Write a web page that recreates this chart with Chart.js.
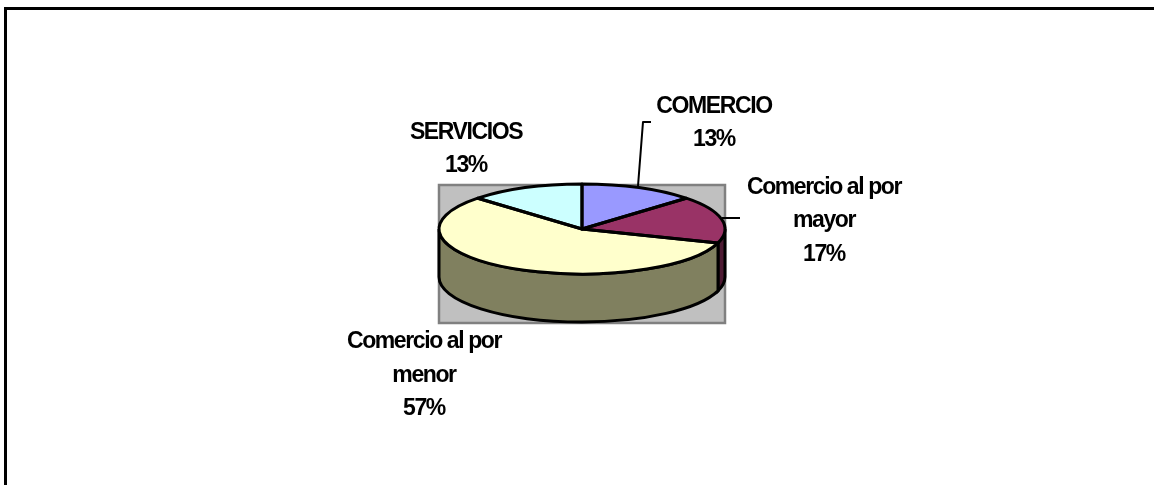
<!DOCTYPE html>
<html>
<head>
<meta charset="utf-8">
<title>Sectores</title>
<style>
html,body{margin:0;padding:0;background:#fff;overflow:hidden;}
#wrap{position:relative;width:1154px;height:485px;}
canvas{display:block;}
</style>
<script src="https://cdn.jsdelivr.net/npm/chart.js@4/dist/chart.umd.min.js"></script>
</head>
<body>
<div id="wrap"><canvas id="pie" width="1154" height="485"></canvas></div>
<script>
const categorias=['COMERCIO','Comercio al por mayor','Comercio al por menor','SERVICIOS'];
const valores=[13,17,57,13];
const colores=['#9999FF','#993366','#FFFFCC','#CCFFFF'];
const coloresLado=['#4d4d80','#4d1a33','#80805f','#668080'];
// lineas de cada etiqueta, centro x e y de la primera linea
const etiquetas=[
  {l:['COMERCIO','13%'],x:714,y:106.5},
  {l:['Comercio al por','mayor','17%'],x:824,y:187.5},
  {l:['Comercio al por','menor','57%'],x:424,y:342},
  {l:['SERVICIOS','13%'],x:466,y:132.5},
];
const guias=[
  [[638,186],[643,122],[651,122]],
  [[722,218],[740,218]],
];
const ESCALA=45/143, FONDO=48;

function trazo(ctx,w,c){ctx.lineWidth=w;ctx.strokeStyle=c;ctx.stroke();}

// la pie de Chart.js es circular: se aplasta con la transformada y se le pone el lado a mano
const pie3d={
  id:'pie3d',
  beforeDraw(chart){
    const ctx=chart.ctx;
    ctx.save();
    // marco exterior: solo arriba y a la izquierda
    ctx.fillStyle='#000';
    ctx.fillRect(4,7,1150,3);
    ctx.fillRect(4,7,3,478);
    // fondo del area del grafico
    ctx.fillStyle='#C0C0C0';
    ctx.fillRect(439,185,286,138);
    ctx.strokeStyle='#808080';ctx.lineWidth=2.5;
    ctx.strokeRect(439,185,286,138);
    ctx.restore();
  },
  beforeDatasetsDraw(chart){
    const ctx=chart.ctx, arcos=chart.getDatasetMeta(0).data;
    const a0=arcos[0], rx=a0.outerRadius, ry=rx*ESCALA;
    ctx.save();
    arcos.forEach((a,i)=>{
      const ini=Math.max(a.startAngle,0), fin=Math.min(a.endAngle,Math.PI);
      if(fin<=ini)return;
      ctx.beginPath();
      ctx.ellipse(a.x,a.y,rx,ry,0,ini,fin);
      ctx.ellipse(a.x,a.y+FONDO,rx,ry,0,fin,ini,true);
      ctx.closePath();
      ctx.fillStyle=coloresLado[i];ctx.fill();
      trazo(ctx,3,'#000');
    });
    ctx.restore();
    ctx.save();
    ctx.translate(a0.x,a0.y);ctx.scale(1,ESCALA);ctx.translate(-a0.x,-a0.y);
  },
  afterDatasetsDraw(chart){
    const ctx=chart.ctx, arcos=chart.getDatasetMeta(0).data;
    ctx.restore();
    ctx.save();
    arcos.forEach(a=>{
      const rx=a.outerRadius, ry=rx*ESCALA;
      ctx.beginPath();
      ctx.moveTo(a.x,a.y);
      ctx.ellipse(a.x,a.y,rx,ry,0,a.startAngle,a.endAngle);
      ctx.closePath();
      ctx.lineJoin='round';
      trazo(ctx,3,'#000');
    });
    guias.forEach(g=>{
      ctx.beginPath();
      g.forEach((p,i)=>i?ctx.lineTo(p[0],p[1]):ctx.moveTo(p[0],p[1]));
      trazo(ctx,2,'#000');
    });
    ctx.fillStyle='#000';
    ctx.font='bold 23px "Liberation Sans"';
    ctx.letterSpacing='-1.4px';
    ctx.textAlign='center';ctx.textBaseline='middle';
    etiquetas.forEach(e=>e.l.forEach((t,i)=>ctx.fillText(t,e.x,e.y+i*33.5)));
    ctx.restore();
  }
};

new Chart(document.getElementById('pie'),{
  type:'pie',
  data:{labels:categorias,datasets:[{data:valores,backgroundColor:colores,borderWidth:0,clip:false}]},
  options:{
    responsive:false,animation:false,
    layout:{padding:{left:439,right:429,top:86,bottom:113}},
    plugins:{legend:{display:false},tooltip:{enabled:false}}
  },
  plugins:[pie3d]
});
</script>
</body>
</html>
